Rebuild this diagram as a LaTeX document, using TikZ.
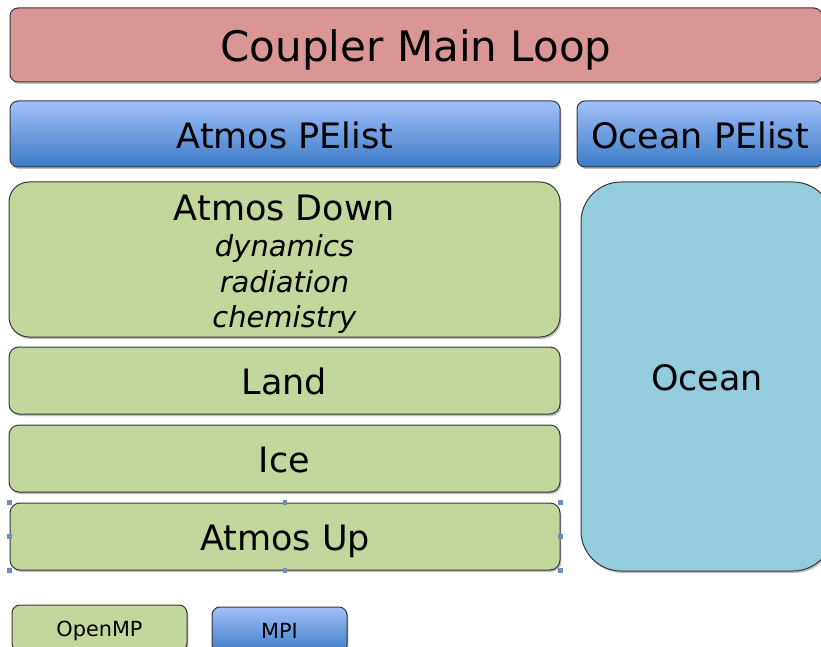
\documentclass[tikz,border=0pt]{standalone}
\usepackage{fontspec}
\setmainfont{DejaVu Sans}
\usetikzlibrary{shadows,positioning}

\definecolor{loopred}{RGB}{217,150,148}
\definecolor{ompgreen}{RGB}{195,214,155}
\definecolor{oceanblue}{RGB}{147,205,221}
\definecolor{mpitop}{RGB}{160,192,248}
\definecolor{mpibottom}{RGB}{60,123,199}
\definecolor{edgegray}{RGB}{56,56,56}
\definecolor{handleblue}{RGB}{110,140,190}

\tikzset{
  box/.style={draw=edgegray, line width=1pt, rounded corners=8pt, inner sep=0pt,
    drop shadow={shadow xshift=1.4pt, shadow yshift=-2pt, fill=black!50}},
  ompbox/.style={box, fill=ompgreen},
  mpibox/.style={box, top color=mpitop, bottom color=mpibottom},
  titletext/.style={font=\fontsize{42}{48}\selectfont, text height=34pt, text depth=0pt},
  bigtext/.style={font=\fontsize{35}{40}\selectfont, text height=28.4pt, text depth=0pt},
  legendtext/.style={font=\fontsize{20.8}{24}\selectfont, text height=16.8pt, text depth=0pt},
  handle/.style={fill=handleblue, minimum size=4.5pt, inner sep=0pt}
}

\begin{document}
\begin{tikzpicture}[x=1pt,y=-1pt]
    \clip (0,0) rectangle (821,647);
    \node[box, titletext, fill=loopred, minimum width=812pt, minimum height=74pt] (coupler) at (416,45) {Coupler Main Loop};
    \node[mpibox, bigtext, minimum width=550pt, minimum height=66pt] (atmospe) at (285,134) {Atmos PElist};
    \node[mpibox, bigtext, minimum width=246pt, minimum height=66pt] (oceanpe) at (700,134) {Ocean PElist};
    \node[ompbox, rounded corners=20pt, minimum width=551pt, minimum height=155pt] (atmosdown) at (284.5,259.5) {};
    \node[below=13pt of atmosdown.north, inner sep=0pt, align=center, font=\fontsize{29}{35.5}\selectfont] (downtext) {{\fontsize{35}{35.5}\selectfont Atmos Down}\\[1pt] \textit{dynamics}\\ \textit{radiation}\\ \textit{chemistry}};
    \node[ompbox, bigtext, rounded corners=10pt, minimum width=551pt, minimum height=67pt] (land) at (284.5,380.5) {Land};
    \node[ompbox, bigtext, rounded corners=10pt, minimum width=551pt, minimum height=67pt] (ice) at (284.5,458.5) {Ice};
    \node[ompbox, bigtext, rounded corners=10pt, minimum width=550pt, minimum height=67pt] (atmosup) at (285,536.5) {Atmos Up};
    \node[box, bigtext, fill=oceanblue, rounded corners=40pt, minimum width=252pt, minimum height=389pt] (ocean) at (707,376.5) {Ocean};
    % legend
    \node[ompbox, legendtext, minimum width=175pt, minimum height=46pt] (openmp) at (99.5,628) {OpenMP};
    \node[mpibox, legendtext, minimum width=135pt, minimum height=46pt] (mpi) at (279.5,630) {MPI};
    % selection handles
    \foreach \a/\n in {north west/1,north/2,north east/3,west/4,east/5,south west/6,south/7,south east/8}
      \node[handle] (handle\n) at (atmosup.\a) {};
\end{tikzpicture}
\end{document}
